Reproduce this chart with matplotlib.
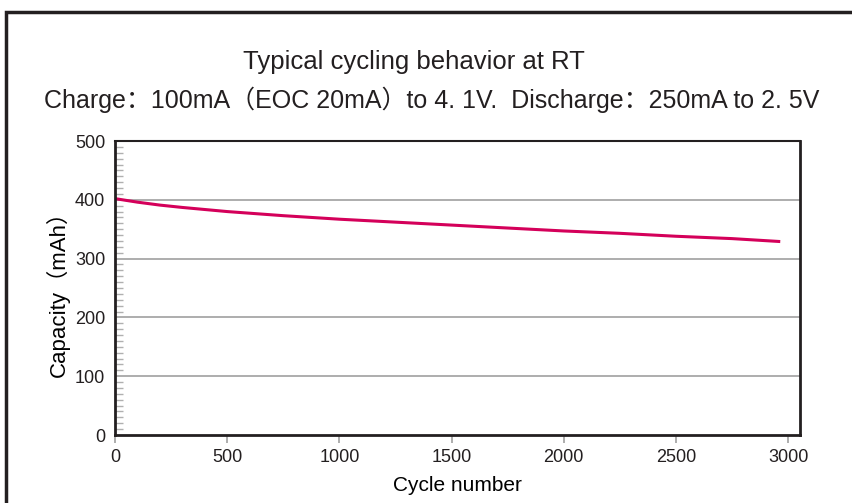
import matplotlib
matplotlib.use("Agg")
import matplotlib.pyplot as plt
from matplotlib.patches import Rectangle
from matplotlib.ticker import MultipleLocator

cycles = [0, 50, 100, 200, 300, 500, 750, 1000, 1250, 1500, 1750, 2000, 2250, 2500, 2750, 2965]
capacity = [402, 399, 396, 391, 387, 380, 373, 367, 362, 357, 352, 347, 343, 338, 334, 329]

yticks = [0, 100, 200, 300, 400, 500]
xticks = [0, 500, 1000, 1500, 2000, 2500, 3000]

fonts = ['Liberation Sans', 'DejaVu Sans', 'Noto Sans CJK SC']
plt.rcParams['font.family'] = fonts

fig = plt.figure(figsize=(8.53, 5.03), dpi=100)
W, H = 853, 503
ax = fig.add_axes([115 / W, 1 - 435 / H, (800 - 115) / W, (435 - 141) / H])

# outer frame running off the right and bottom edges
fig.patches.append(Rectangle((6 / W, -0.05), 1.1, 1 - 12 / H + 0.05, transform=fig.transFigure,
                             fill=False, edgecolor='#231f20', linewidth=2.5))

ax.plot(cycles, capacity, color='#d4005a', linewidth=2.2, solid_capstyle='butt')

ax.set_xlim(0, 3053)
ax.set_ylim(0, 500)
ax.set_xticks(xticks)
ax.set_yticks(yticks)
ax.yaxis.set_minor_locator(MultipleLocator(10))
for y in [100, 200, 300, 400]:
    ax.axhline(y, color='#a0a0a0', linewidth=1.2, zorder=0)

ax.tick_params(axis='x', direction='out', length=6, width=1.2, color='#a0a0a0',
               labelsize=13, labelcolor='#231f20', pad=4)
ax.tick_params(axis='y', which='major', direction='in', length=0, labelsize=13,
               labelcolor='#231f20', pad=7)
ax.tick_params(axis='y', which='minor', direction='in', length=6, width=1, color='#b0b0b0')

for side in ['left', 'bottom', 'right']:
    ax.spines[side].set_linewidth(2)
    ax.spines[side].set_color('#231f20')
ax.spines['top'].set_linewidth(1.5)
ax.spines['top'].set_color('#231f20')

ax.set_xlabel('Cycle number', fontsize=15, labelpad=7)
ax.set_ylabel('Capacity（mAh）', fontsize=16, labelpad=4)

fig.text(414 / W, 1 - 62 / H, 'Typical cycling behavior at RT', ha='center', va='center',
         fontsize=18.5, color='#231f20')
fig.text(432 / W, 1 - 100 / H, 'Charge：100mA（EOC 20mA）to 4. 1V.  Discharge：250mA to 2. 5V',
         ha='center', va='center', fontsize=18, color='#231f20')

fig.savefig('out.png', dpi=100)
